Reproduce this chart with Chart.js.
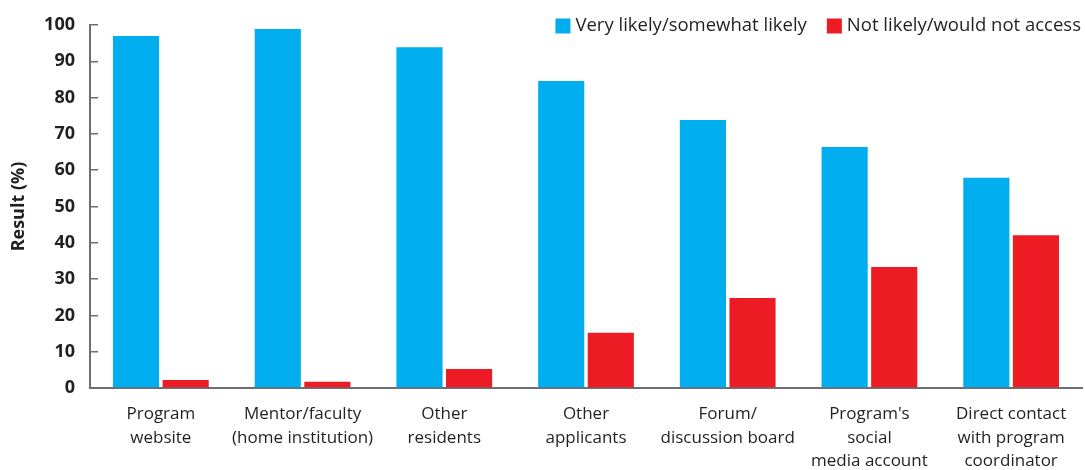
<!DOCTYPE html>
<html>
<head>
<meta charset="utf-8">
<script src="https://cdn.jsdelivr.net/npm/chart.js@4"></script>
<style>
  html, body { margin: 0; padding: 0; background: #fff; }
  #wrap { width: 1085px; height: 470px; }
</style>
</head>
<body>
<div id="wrap"><canvas id="accessChart" width="1085" height="470"></canvas></div>
<script>
// categories (multi-line labels as shown under the axis)
const categories = [
    ['Program', 'website'],
    ['Mentor/faculty', '(home institution)'],
    ['Other', 'residents'],
    ['Other', 'applicants'],
    ['Forum/', 'discussion board'],
    ["Program's", 'social', 'media account'],
    ['Direct contact', 'with program', 'coordinator']
];
const seriesNames = ['Very likely/somewhat likely', 'Not likely/would not access'];
const likelyValues = [97.0, 98.9, 93.9, 84.6, 73.8, 66.4, 57.9];
const notLikelyValues = [2.2, 1.7, 5.2, 15.2, 24.8, 33.3, 42.1];
const yTicks = [0, 10, 20, 30, 40, 50, 60, 70, 80, 90, 100];

const textColor = '#231f20';
const axisColor = '#6d6e71';
const fontFamily = '"Open Sans", "DejaVu Sans", sans-serif';

// legend drawn in the top right corner, overlapping the plot like the original
const cornerLegend = {
    id: 'cornerLegend',
    afterDraw(chart) {
        const ctx = chart.ctx;
        ctx.save();
        ctx.font = '500 18.5px ' + fontFamily;
        ctx.textBaseline = 'middle';
        ctx.textAlign = 'left';
        let right = 1081;
        const yMid = 26;
        const box = 15;
        const items = chart.data.datasets.slice().reverse();
        items.forEach(ds => {
            const w = ctx.measureText(ds.label).width;
            const textX = right - w;
            const boxX = textX - 5 - box;
            ctx.fillStyle = ds.backgroundColor;
            ctx.fillRect(boxX, yMid - box / 2, box, box);
            ctx.fillStyle = textColor;
            ctx.fillText(ds.label, textX, yMid);
            right = boxX - 20;
        });
        ctx.restore();
    }
};

const ctx = document.getElementById('accessChart').getContext('2d');
const accessChart = new Chart(ctx, {
    type: 'bar',
    data: {
        labels: categories,
        datasets: [{
            label: seriesNames[0],
            data: likelyValues,
            backgroundColor: '#00aeef',
            categoryPercentage: 0.70,
            barPercentage: 0.93
        }, {
            label: seriesNames[1],
            data: notLikelyValues,
            backgroundColor: '#ed1c24',
            categoryPercentage: 0.70,
            barPercentage: 0.93
        }]
    },
    options: {
        responsive: false,
        animation: false,
        layout: { padding: { top: 25, right: 3, left: 0, bottom: 0 } },
        plugins: {
            legend: { display: false },
            tooltip: { enabled: false }
        },
        scales: {
            x: {
                grid: { display: false, drawTicks: false },
                border: { display: true, color: axisColor, width: 2 },
                ticks: {
                    color: textColor,
                    padding: 14,
                    maxRotation: 0,
                    autoSkip: false,
                    font: { family: fontFamily, size: 17, weight: '500', lineHeight: 1.4 }
                },
                afterFit: s => { s.height = 82; }
            },
            y: {
                min: 0,
                max: 100,
                afterBuildTicks: s => { s.ticks = yTicks.map(v => ({ value: v })); },
                grid: {
                    drawOnChartArea: false,
                    tickLength: -8,
                    color: axisColor,
                    lineWidth: 1.5
                },
                border: { display: true, color: axisColor, width: 2 },
                ticks: {
                    color: textColor,
                    padding: 23,
                    font: { family: fontFamily, size: 18, weight: 'bold' }
                },
                title: {
                    display: true,
                    text: 'Result (%)',
                    color: textColor,
                    padding: { top: 8, bottom: 0 },
                    font: { family: fontFamily, size: 18, weight: 'bold' }
                },
                // fixed width; drop the extra top/bottom room the big label padding asks for
                afterFit: s => {
                    s.width = 90;
                    s.paddingTop = 0;
                    s.paddingBottom = 0;
                }
            }
        }
    },
    plugins: [cornerLegend]
});
</script>
</body>
</html>
